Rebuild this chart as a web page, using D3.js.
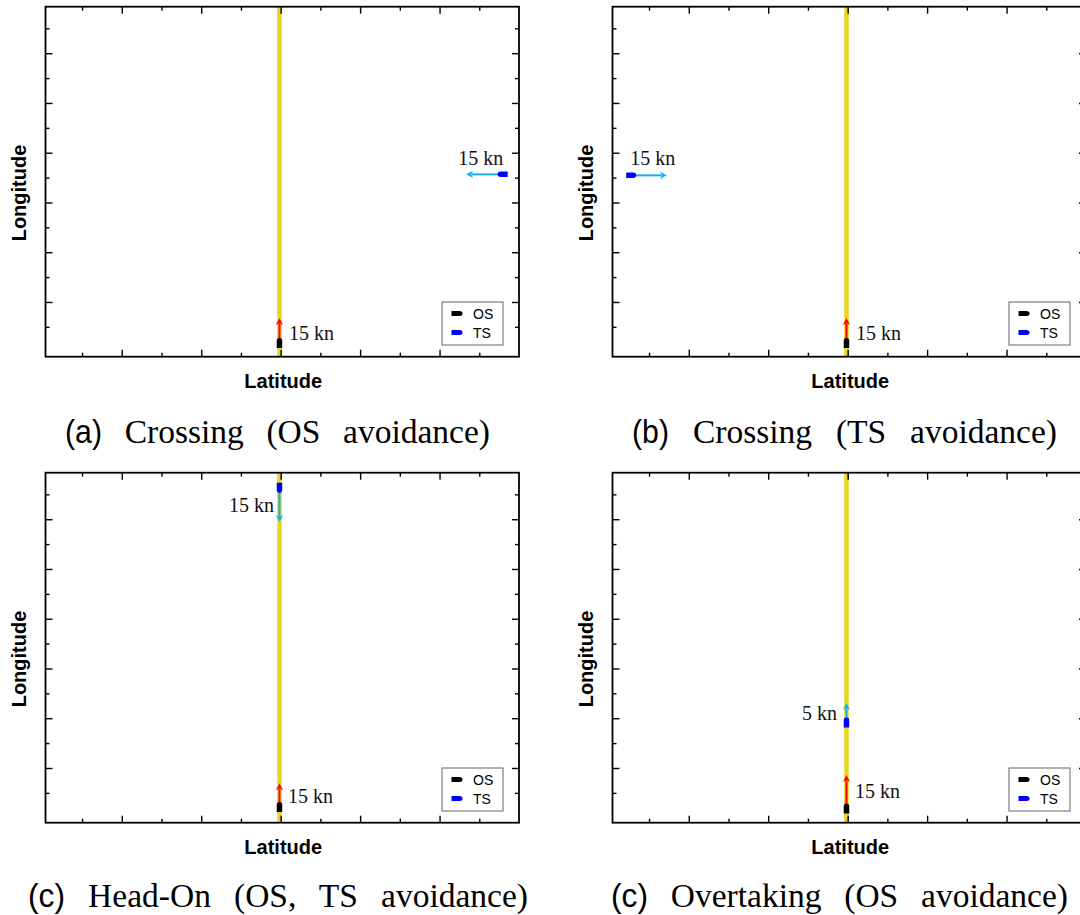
<!DOCTYPE html>
<html><head><meta charset="utf-8">
<script src="https://cdn.jsdelivr.net/npm/d3@7"></script>
<style>html,body{margin:0;padding:0;background:#fff;overflow:hidden}</style>
</head><body>
<svg id="chart" width="1080" height="915"></svg>
<script>
// ---------- data ----------
const captionLetters = ["(a)", "(b)", "(c)", "(c)"];
const captionTexts = ["Crossing (OS avoidance)", "Crossing (TS avoidance)", "Head-On (OS, TS avoidance)", "Overtaking (OS avoidance)"];
const xLabel = "Latitude";
const yLabel = "Longitude";
const legendLabels = ["OS", "TS"];
const xMajorTicks = [2, 4, 6, 8, 10];
const xMinorTicks = [1, 3, 5, 7, 9, 11];
const yMajorTicks = [2, 4, 6, 8, 10, 12];
const yMinorTicks = [1, 3, 5, 7, 9, 11, 13];
const routeX = [5.97, 5.97, 5.97, 5.97];
const osX = [5.97, 5.97, 5.97, 5.97];
const osY = [0.35, 0.35, 0.43, 0.37];
const osHeadX = [5.97, 5.97, 5.97, 5.97];
const osHeadY = [1.36, 1.36, 1.39, 1.72];
const osSpeed = [15, 15, 15, 15];
const tsX = [11.59, 0.55, 5.97, 5.97];
const tsY = [7.13, 7.09, 13.26, 3.83];
const tsHeadX = [10.67, 1.45, 5.97, 5.97];
const tsHeadY = [7.13, 7.09, 11.89, 4.61];
const tsSpeed = [15, 15, 15, 5];

// ---------- layout ----------
const panelOffsets = [[0, 0], [567, 0], [0, 466], [567, 466]];
const frame = {left: 45.5, right: 519, top: 6.7, bottom: 356.7};
const xDomain = [0.08, 12], yDomain = [-0.2, 13.87];
const osLabelPos = [{dx: 9.6, dy: -3, a: "start"}, {dx: 9.6, dy: -3, a: "start"}, {dx: 8.6, dy: -4, a: "start"}, {dx: 8.6, dy: -10.5, a: "start"}];
const tsLabelPos = [{dx: 0.5, dy: -9.5, a: "end"}, {dx: -1, dy: -10.5, a: "start"}, {dx: -5.4, dy: 24, a: "end"}, {dx: -9.4, dy: -2.5, a: "end"}];
const captionBox = [{x0: 65, x1: 490, y: 443}, {x0: 632, x1: 1057, y: 443}, {x0: 28, x1: 528, y: 907}, {x0: 611, x1: 1068, y: 907}];
const letterWidth = 37;
const capSize = 33.5;
const colors = {route: "#e6d720", os: "#000000", ts: "#0000ff", osArrow: "#ff0000", tsArrow: "#14aef0"};
const serif = "'Liberation Serif', 'Times New Roman', serif";
const sans = "'Liberation Sans', Arial, sans-serif";

const svg = d3.select("#chart");
const x = d3.scaleLinear().domain(xDomain).range([frame.left, frame.right]);
const y = d3.scaleLinear().domain(yDomain).range([frame.bottom, frame.top]);

function shipPath(len, wid) {
  const h = len / 2, w = wid / 2;
  return `M${-h},${-w} L${h - 3},${-w} Q${h},${-w} ${h},0 Q${h},${w} ${h - 3},${w} L${-h},${w} Z`;
}

function drawArrow(g, x0, y0, x1, y1, color) {
  const ang = Math.atan2(y1 - y0, x1 - x0);
  const hl = 7, hw = 3.6;
  const bx = x1 - hl * Math.cos(ang), by = y1 - hl * Math.sin(ang);
  g.append("line").attr("x1", x0).attr("y1", y0).attr("x2", bx + 1.5 * Math.cos(ang)).attr("y2", by + 1.5 * Math.sin(ang))
    .attr("stroke", color).attr("stroke-width", 2);
  const px = -Math.sin(ang), py = Math.cos(ang);
  g.append("path")
    .attr("d", `M${x1},${y1} L${bx + hw * px},${by + hw * py} L${bx + 2 * Math.cos(ang)},${by + 2 * Math.sin(ang)} L${bx - hw * px},${by - hw * py} Z`)
    .attr("fill", color);
}

function drawShip(g, cx, cy, hx, hy, color) {
  const ang = Math.atan2(hy - cy, hx - cx) * 180 / Math.PI;
  g.append("path").attr("d", shipPath(10, 5.5))
    .attr("transform", `translate(${cx},${cy}) rotate(${ang})`)
    .attr("fill", color);
}

panelOffsets.forEach((off, i) => {
  const g = svg.append("g").attr("transform", `translate(${off[0]},${off[1]})`);

  // route
  g.append("line").attr("x1", x(routeX[i])).attr("x2", x(routeX[i]))
    .attr("y1", y(yDomain[0])).attr("y2", y(yDomain[1]))
    .attr("stroke", colors.route).attr("stroke-width", 4.5);

  // ticks (inward, mirrored)
  const tickSpecs = [
    [d3.axisBottom, frame.bottom, "x"], [d3.axisTop, frame.top, "x"],
    [d3.axisLeft, frame.left, "y"], [d3.axisRight, frame.right, "y"]
  ];
  tickSpecs.forEach(([fn, pos, dim]) => {
    [[dim === "x" ? xMajorTicks : yMajorTicks, 7], [dim === "x" ? xMinorTicks : yMinorTicks, 4]].forEach(([vals, len]) => {
      const ax = fn(dim === "x" ? x : y).tickValues(vals).tickSize(-len).tickFormat("");
      const ag = g.append("g")
        .attr("transform", dim === "x" ? `translate(0,${pos})` : `translate(${pos},0)`)
        .call(ax);
      ag.select(".domain").remove();
      ag.selectAll("line").attr("stroke", "#000").attr("stroke-width", 1.4);
    });
  });

  // frame
  g.append("rect").attr("x", frame.left).attr("y", frame.top)
    .attr("width", frame.right - frame.left).attr("height", frame.bottom - frame.top)
    .attr("fill", "none").attr("stroke", "#000").attr("stroke-width", 1.8);

  // TS
  const tsx = x(tsX[i]), tsy = y(tsY[i]), tshx = x(tsHeadX[i]), tshy = y(tsHeadY[i]);
  drawArrow(g, tsx, tsy, tshx, tshy, colors.tsArrow);
  drawShip(g, tsx, tsy, tshx, tshy, colors.ts);
  g.append("text").attr("x", tsx + tsLabelPos[i].dx).attr("y", tsy + tsLabelPos[i].dy)
    .attr("text-anchor", tsLabelPos[i].a).attr("font-family", serif).attr("font-size", 20)
    .attr("fill", "#111").text(`${tsSpeed[i]} kn`);

  // OS
  const osx = x(osX[i]), osy = y(osY[i]), oshx = x(osHeadX[i]), oshy = y(osHeadY[i]);
  drawArrow(g, osx, osy, oshx, oshy, colors.osArrow);
  drawShip(g, osx, osy, oshx, oshy, colors.os);
  g.append("text").attr("x", osx + osLabelPos[i].dx).attr("y", osy + osLabelPos[i].dy)
    .attr("text-anchor", osLabelPos[i].a).attr("font-family", serif).attr("font-size", 20)
    .attr("fill", "#111").text(`${osSpeed[i]} kn`);

  // legend
  const lg = g.append("g").attr("transform", "translate(442,302)");
  lg.append("rect").attr("width", 61).attr("height", 43).attr("fill", "#fff")
    .attr("stroke", "#666").attr("stroke-width", 1);
  legendLabels.forEach((lab, k) => {
    const ly = 11.5 + k * 19;
    lg.append("path").attr("d", shipPath(11, 5)).attr("transform", `translate(15,${ly})`)
      .attr("fill", k === 0 ? colors.os : colors.ts);
    lg.append("text").attr("x", 31).attr("y", ly).attr("dy", "0.36em")
      .attr("font-family", sans).attr("font-size", 14).attr("fill", "#000").text(lab);
  });

  // axis titles
  g.append("text").attr("x", (frame.left + frame.right) / 2 + 1).attr("y", 388)
    .attr("text-anchor", "middle").attr("font-family", sans).attr("font-weight", "bold")
    .attr("font-size", 20).attr("fill", "#000").text(xLabel);
  g.append("text").attr("transform", "translate(26,193) rotate(-90)")
    .attr("text-anchor", "middle").attr("font-family", sans).attr("font-weight", "bold")
    .attr("font-size", 20).attr("fill", "#000").text(yLabel);

  // caption
  const cb = captionBox[i];
  svg.append("text").attr("x", cb.x0).attr("y", cb.y).attr("fill", "#000")
    .attr("font-family", sans).attr("font-size", 33)
    .attr("textLength", letterWidth).attr("lengthAdjust", "spacingAndGlyphs")
    .text(captionLetters[i]);
  const cap = svg.append("text").attr("y", cb.y).attr("fill", "#000")
    .attr("font-family", serif).attr("font-size", capSize).text(captionTexts[i]);
  const natural = cap.node().getComputedTextLength();
  const k = captionTexts[i].split(" ").length - 1;
  const spaceW = 0.25 * capSize;
  const ws = Math.max(0, (cb.x1 - cb.x0 - letterWidth - spaceW - natural) / (k + 1));
  cap.attr("x", cb.x0 + letterWidth + spaceW + ws).attr("word-spacing", ws);
});
</script></body></html>
